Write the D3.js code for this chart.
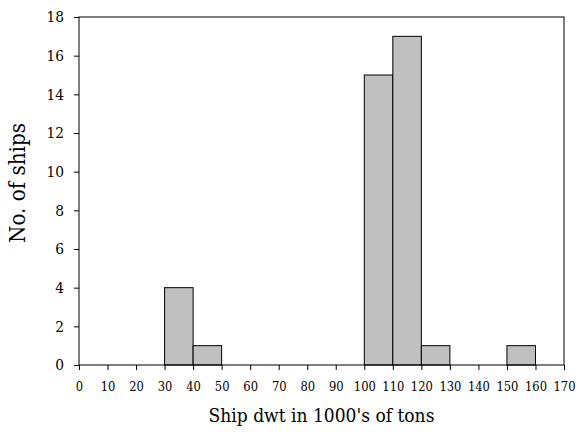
<!DOCTYPE html>
<html>
<head>
<meta charset="utf-8">
<script src="https://cdn.jsdelivr.net/npm/d3@7"></script>
<style>
  body { margin: 0; background: #fff; }
</style>
</head>
<body>
<div id="chart"></div>
<script>
// bin starts (1000's of tons), bin width 10
var binStarts = [30, 40, 100, 110, 120, 150];
var counts = [4, 1, 15, 17, 1, 1];
var binWidth = 10;
var xTicks = d3.range(0, 171, 10);
var yTicks = d3.range(0, 19, 2);

var width = 586, height = 432;
var margin = { top: 17, right: 22, bottom: 67, left: 79 };
var serif = "'DejaVu Serif Condensed', 'DejaVu Serif', serif";

var svg = d3.select('#chart').append('svg')
  .attr('width', width)
  .attr('height', height);

var x = d3.scaleLinear().domain([0, 170]).range([margin.left, width - margin.right]);
var y = d3.scaleLinear().domain([0, 18]).range([height - margin.bottom, margin.top]);

// scale a text's font size so it spans roughly the given width
function fitFont(sel, target) {
  sel.style('font-size', '10px');
  var w = sel.node().getComputedTextLength();
  var size = 10 * target / w;
  sel.style('font-size', size.toFixed(2) + 'px');
  return size;
}

// bars
svg.selectAll('rect.bar')
  .data(binStarts)
  .enter().append('rect')
  .attr('class', 'bar')
  .attr('x', function (d) { return x(d); })
  .attr('y', function (d, i) { return y(counts[i]); })
  .attr('width', function (d) { return x(d + binWidth) - x(d); })
  .attr('height', function (d, i) { return y(0) - y(counts[i]); })
  .style('fill', '#c0c0c0')
  .style('stroke', '#000')
  .style('stroke-width', 1);

// frame
svg.append('rect')
  .attr('x', x(0))
  .attr('y', y(18))
  .attr('width', x(170) - x(0))
  .attr('height', y(0) - y(18))
  .style('fill', 'none')
  .style('stroke', '#000')
  .style('stroke-width', 1);

// x axis
var xAxis = svg.append('g')
  .attr('transform', 'translate(0,' + y(0) + ')')
  .call(d3.axisBottom(x).tickValues(xTicks).tickSize(5).tickPadding(12));
xAxis.select('.domain').remove();
xAxis.attr('font-family', serif);
var xs = xAxis.selectAll('text').filter(function (d) { return d === 100; });
var xSize = fitFont(xs, 22);
xAxis.selectAll('text')
  .style('font-size', xSize.toFixed(2) + 'px')
  .style('fill', '#000');

// y axis
var yAxis = svg.append('g')
  .attr('transform', 'translate(' + x(0) + ',0)')
  .call(d3.axisLeft(y).tickValues(yTicks).tickSize(5).tickPadding(10));
yAxis.select('.domain').remove();
yAxis.attr('font-family', serif);
var ys = yAxis.selectAll('text').filter(function (d) { return d === 18; });
var ySize = fitFont(ys, 17.5);
yAxis.selectAll('text')
  .style('font-size', ySize.toFixed(2) + 'px')
  .style('fill', '#000');

// titles
var xTitle = svg.append('text')
  .attr('x', (x(0) + x(170)) / 2)
  .attr('y', 422)
  .attr('text-anchor', 'middle')
  .attr('font-family', serif)
  .text("Ship dwt in 1000's of tons");
fitFont(xTitle, 226);

var yTitle = svg.append('text')
  .attr('transform', 'translate(25,183) rotate(-90)')
  .attr('text-anchor', 'middle')
  .attr('font-family', serif)
  .text('No. of ships');
fitFont(yTitle, 120);
</script>
</body>
</html>
